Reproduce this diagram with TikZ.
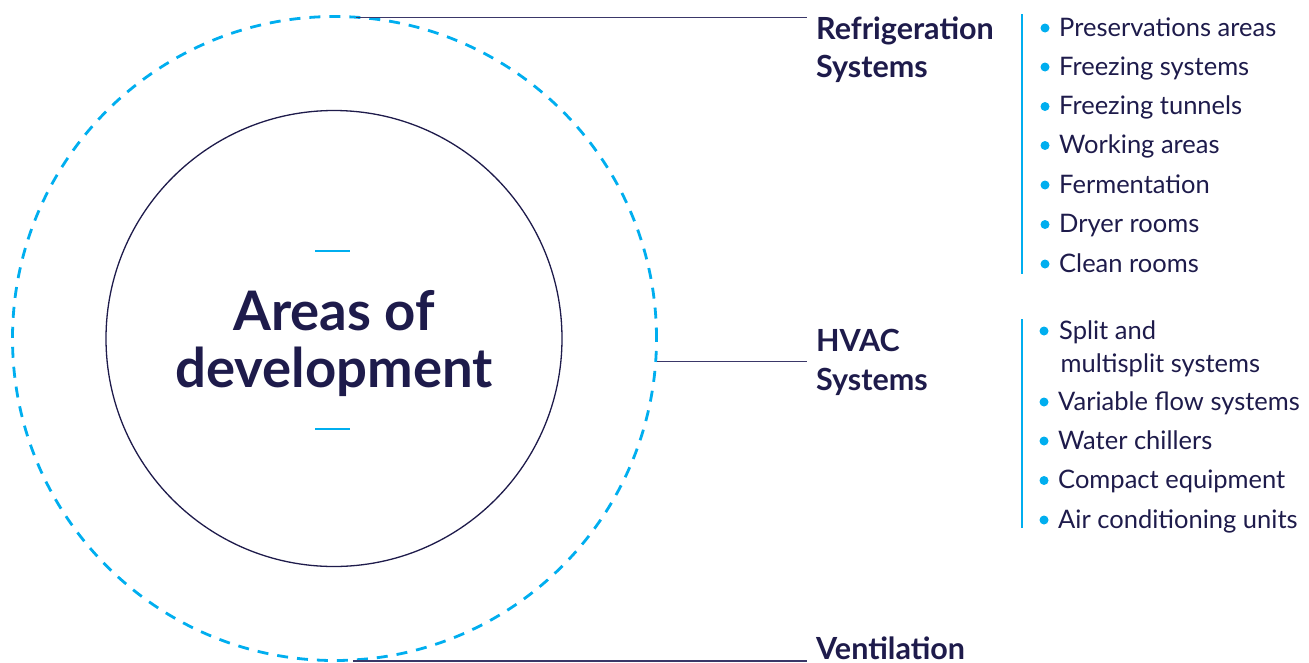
\documentclass[tikz,border=0pt]{standalone}
\usepackage{fontspec}
\setmainfont{Lato}
\definecolor{navy}{HTML}{1E1B4B}
\definecolor{sky}{HTML}{00AEEF}
\definecolor{linec}{HTML}{3A3768}
\begin{document}
\begin{tikzpicture}[x=1pt,y=-1pt,
  heading/.style={anchor=base west,inner sep=0pt,text=navy,align=left,
    font=\fontsize{30.5}{38.5}\selectfont\bfseries},
  item/.style={anchor=base west,inner sep=0pt,text=navy,align=left,
    font=\fontsize{25.5}{33}\selectfont},
  connector/.style={draw=linec,line width=1.1pt},
  divider/.style={draw=sky,line width=1.4pt},
  bulletdot/.style={fill=sky}]
\useasboundingbox (0,0) rectangle (1309,662);
% circles
\node[circle,draw=sky,line width=2.8pt,dash pattern=on 11pt off 9pt,
  minimum size=644pt,inner sep=0pt] (outer) at (334.5,338.5) {};
\node[circle,draw=navy,line width=1.3pt,minimum size=456pt,inner sep=0pt]
  (inner) at (334,338.5) {};
\node[anchor=base,inner sep=0pt,text=navy,align=center,
  font=\fontsize{54.5}{57}\selectfont\bfseries] (title) at (334,387)
  {Areas of\\development};
\draw[sky,line width=2pt] (315,250.5) -- (350,250.5);
\draw[sky,line width=2pt] (315,429) -- (350,429);
% headings (base = last line)
\node[heading] (ref) at (816,77.5) {Refrigeration\\Systems};
\node[heading] (hvac) at (816,390) {HVAC\\Systems};
\node[heading] (vent) at (816,659) {Ventilation};
% connectors
\coordinate (t0) at (356,17.5);
\coordinate (m0) at (outer.-4.2);
\coordinate (b0) at (353,661);
\draw[connector] (t0) -- ([xshift=-9pt]ref.west |- t0);
\draw[connector] (m0) -- ([xshift=-9pt]hvac.west |- m0);
\draw[connector] (b0) -- ([xshift=-9pt]vent.west |- b0);
% dividers
\draw[divider] (1022,14) -- (1022,274);
\draw[divider] (1022,319) -- (1022,528);
% refrigeration items
\foreach \t/\y [count=\i] in {Preservations areas/36,Freezing systems/75,
  Freezing tunnels/114.5,Working areas/153.5,Fermentation/193,
  Dryer rooms/232.5,Clean rooms/272}{
  \node[item] (r\i) at (1059,\y) {\t};
  \fill[bulletdot] ([shift={(-14,-8)}]r\i.base west) circle[radius=4.5pt];
}
% hvac items
\node[item] (h1) at (1059,372) {Split and\\\hspace*{1.5pt}multisplit systems};
\fill[bulletdot] ([shift={(-15,-41)}]h1.base west) circle[radius=4.5pt];
\foreach \t/\y [count=\i from 2] in {Variable flow systems/410,
  Water chillers/449,Compact equipment/488.5,Air conditioning units/528}{
  \node[item] (h\i) at (1058,\y) {\t};
  \fill[bulletdot] ([shift={(-14,-8)}]h\i.base west) circle[radius=4.5pt];
}
\end{tikzpicture}
\end{document}
